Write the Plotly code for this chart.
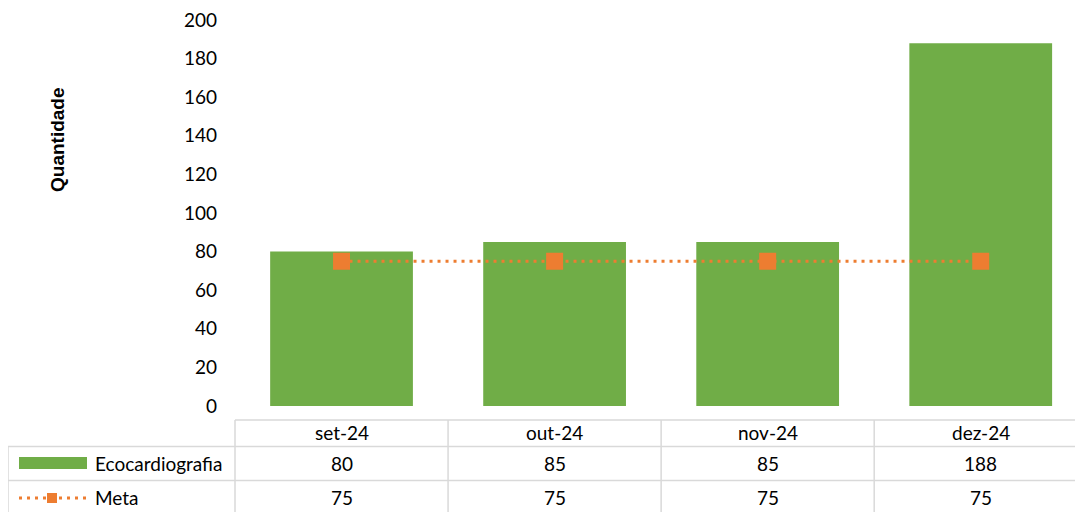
import plotly.graph_objects as go

categories = ["set-24", "out-24", "nov-24", "dez-24"]
eco_values = [80, 85, 85, 188]
meta_values = [75, 75, 75, 75]
series_names = ["Ecocardiografia", "Meta"]
y_ticks = [0, 20, 40, 60, 80, 100, 120, 140, 160, 180, 200]
y_title = "Quantidade"

GREEN = "#70AD47"
ORANGE = "#ED7D31"
GRID = "#D9D9D9"
FONT = "Lato"
TXT = "#000000"
FS = 19

OFF = 8  # page body margin
W, H = 1083 - OFF, 512 - OFF
L, T = 235 - OFF, 20 - OFF
PB = 406 - OFF  # plot bottom in figure px
B = H - PB
PH = PB - T
PW = W - L
n = len(categories)
XSPAN = n - 0.02  # plot extends slightly past the window on the right


def py(pix):  # window pixel y -> paper
    return (PB - (pix - OFF)) / PH


def px(pix):  # window pixel x -> paper
    return (pix - OFF - L) / PW


fig = go.Figure()
fig.add_trace(go.Bar(x=categories, y=eco_values, name=series_names[0],
                     marker=dict(color=GREEN, line=dict(width=0)), width=0.67))
fig.add_trace(go.Scatter(x=categories, y=meta_values, name=series_names[1], mode="lines+markers",
                         line=dict(color=ORANGE, width=3, dash="3px,5px"),
                         marker=dict(symbol="square", size=17, color=ORANGE)))

shapes = []
line = dict(color=GRID, width=1.5)
y_hdr_top, y_r1, y_r2, y_bot = py(420), py(446.5), py(480.5), py(530)
# horizontal lines
shapes.append(dict(type="line", xref="paper", yref="paper", x0=0, x1=1.02, y0=y_hdr_top, y1=y_hdr_top, line=line))
for yy in (y_r1, y_r2):
    shapes.append(dict(type="line", xref="paper", yref="paper", x0=px(8), x1=1.02, y0=yy, y1=yy, line=line))
# vertical lines at category boundaries
for k in range(n):
    xx = k / XSPAN
    shapes.append(dict(type="line", xref="paper", yref="paper", x0=xx, x1=xx, y0=y_hdr_top, y1=y_bot, line=line))
shapes.append(dict(type="line", xref="paper", yref="paper", x0=px(8), x1=px(8), y0=y_r1, y1=y_bot, line=line))
# legend keys
shapes.append(dict(type="rect", xref="paper", yref="paper", x0=px(19), x1=px(87), y0=py(469), y1=py(457),
                   fillcolor=GREEN, line=dict(width=0)))
shapes.append(dict(type="line", xref="paper", yref="paper", x0=px(19), x1=px(87), y0=py(498), y1=py(498),
                   line=dict(color=ORANGE, width=3, dash="3px,5px")))
shapes.append(dict(type="rect", xref="paper", yref="paper", x0=px(47), x1=px(57), y0=py(503), y1=py(493),
                   fillcolor=ORANGE, line=dict(width=0)))

ann = []
f = dict(family=FONT, size=FS, color=TXT)
for c, e, m in zip(categories, eco_values, meta_values):
    for yy, txt in ((432.5, c), (463.5, str(e)), (497, str(m))):
        ann.append(dict(x=c, y=py(yy), xref="x", yref="paper", text=txt, showarrow=False, font=f,
                        xanchor="center", yanchor="middle"))
for yy, txt in ((463.5, series_names[0]), (497, series_names[1])):
    ann.append(dict(x=px(93), y=py(yy), xref="paper", yref="paper", text=txt, showarrow=False,
                    xanchor="left", yanchor="middle", font=f))
ann.append(dict(x=px(57), y=py(140), xref="paper", yref="paper", text="<b>" + y_title + "</b>", showarrow=False,
                textangle=-90, xanchor="center", yanchor="middle",
                font=dict(family="Liberation Sans", size=19, color=TXT)))

fig.update_layout(
    width=W, height=H,
    margin=dict(l=L, r=0, t=T, b=B),
    paper_bgcolor="white", plot_bgcolor="white",
    showlegend=False,
    shapes=shapes, annotations=ann,
    xaxis=dict(range=[-0.5, -0.5 + XSPAN], showticklabels=False, showgrid=False, zeroline=False, showline=False,
               fixedrange=True),
    yaxis=dict(range=[0, 200], tickvals=y_ticks, showgrid=False, zeroline=False, showline=False,
               tickfont=f, ticklabelstandoff=17, ticklabeloverflow="allow", fixedrange=True),
)

fig.write_html("out.html")
